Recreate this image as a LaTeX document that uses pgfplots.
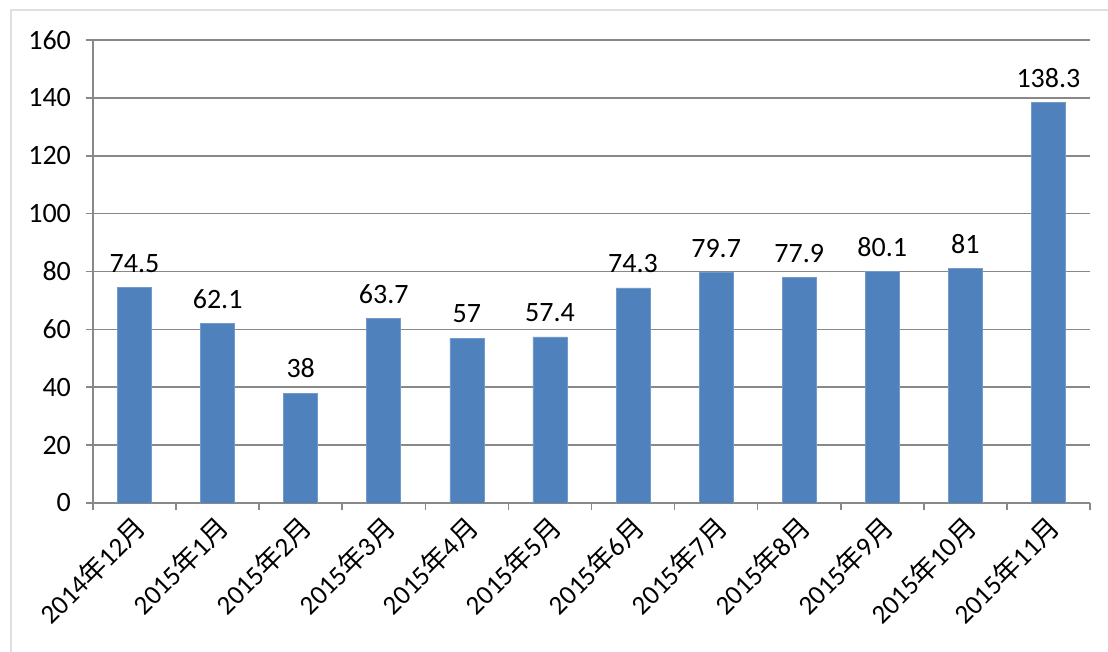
\documentclass[border=0pt]{standalone}
\usepackage{pgfplots}
\pgfplotsset{compat=1.18}
\usepackage{fontspec}
\setmainfont{Carlito}
\newfontfamily\cjk{Noto Sans CJK SC}
\definecolor{barblue}{HTML}{4F81BD}
\definecolor{gridgray}{HTML}{888888}
\begin{document}
\begin{tikzpicture}
\useasboundingbox (0,0) rectangle (554pt,326pt);
\draw[gray!25, line width=1.2pt] (5.5pt,-2pt) -- (5.5pt,321pt) -- (560pt,321pt);
\begin{axis}[
  at={(46.5pt,74.5pt)}, anchor=south west,
  width=498.5pt, height=231.5pt, scale only axis,
  xmin=-0.5, xmax=11.5, ymin=0, ymax=160,
  ytick={0,20,...,160},
  xtick={0,...,11},
  xticklabels={2014{\cjk 年}12{\cjk 月},2015{\cjk 年}1{\cjk 月},2015{\cjk 年}2{\cjk 月},2015{\cjk 年}3{\cjk 月},2015{\cjk 年}4{\cjk 月},2015{\cjk 年}5{\cjk 月},2015{\cjk 年}6{\cjk 月},2015{\cjk 年}7{\cjk 月},2015{\cjk 年}8{\cjk 月},2015{\cjk 年}9{\cjk 月},2015{\cjk 年}10{\cjk 月},2015{\cjk 年}11{\cjk 月}},
  minor xtick={-0.5,0.5,...,11.5},
  x tick label style={rotate=45, anchor=east, font=\fontsize{13.5pt}{15pt}\selectfont, inner sep=0.5pt, yshift=-6.5pt, xshift=-1.5pt},
  y tick label style={font=\fontsize{14pt}{16pt}\selectfont, xshift=-4pt},
  /pgf/number format/assume math mode=true,
  tick align=outside,
  major x tick style={draw=none},
  minor x tick style={draw=gridgray, line width=0.8pt},
  major y tick style={draw=gridgray, line width=0.8pt},
  major tick length=3.5pt, minor tick length=3.5pt,
  ymajorgrids,
  grid style={draw=gridgray, line width=0.8pt},
  axis x line*=bottom, axis y line*=left,
  axis line style={draw=gridgray, line width=0.8pt, -},
  ybar, bar width=17pt,
  nodes near coords,
  every node near coord/.append style={font=\fontsize{14pt}{16pt}\selectfont, yshift=4pt, black},
]
\addplot[fill=barblue, draw=barblue!80!white, line width=0.3pt] coordinates {
(0,74.5) (1,62.1) (2,38) (3,63.7) (4,57) (5,57.4) (6,74.3) (7,79.7) (8,77.9) (9,80.1) (10,81) (11,138.3)};
\end{axis}
\end{tikzpicture}
\end{document}
